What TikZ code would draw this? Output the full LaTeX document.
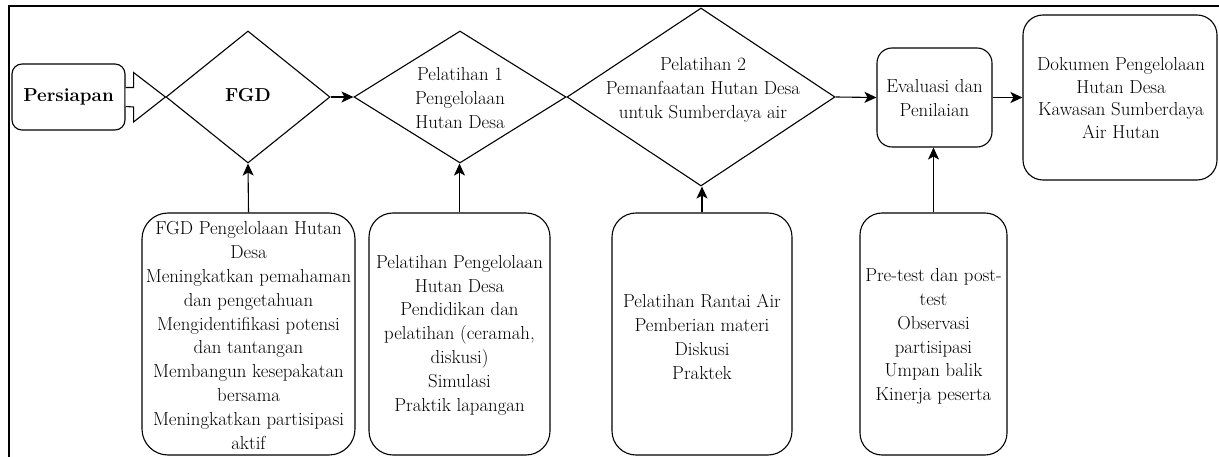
\documentclass[tikz,border=0pt]{standalone}
\usetikzlibrary{shapes.geometric,arrows.meta,calc}
\tikzset{
  frameline/.style={line width=1.4pt},
  rbox/.style={draw, rounded corners=#1, line width=1.1pt, inner sep=0pt},
  dia/.style={draw, diamond, inner sep=0pt, line width=1.1pt},
  txt/.style={align=center, inner sep=0pt, font=\rmfamily\fontsize{18.8}{23.8}\selectfont},
  arr/.style={-{Stealth[length=12pt,width=11pt,inset=3pt]}, line width=1.1pt},
}
\begin{document}
\begin{tikzpicture}[x=1pt,y=-1pt]
\useasboundingbox (0,0) rectangle (1219,457);
% frame
\draw[frameline] (9,460) -- (9,6) -- (1222,6);
% top row shapes
\node[rbox=10pt, minimum width=113pt, minimum height=66pt] (pers) at (68.5,97) {};
\node[dia, minimum width=164pt, minimum height=132pt] (fgd) at (248,97) {};
\node[dia, minimum width=212pt, minimum height=132pt] (p1) at (460,97) {};
\node[dia, minimum width=268pt, minimum height=178pt] (p2) at (701,97) {};
\node[rbox=15pt, minimum width=115pt, minimum height=99pt] (eval) at (934.5,97.5) {};
\node[rbox=20pt, minimum width=194pt, minimum height=165pt] (dok) at (1120,97.5) {};
% top row texts
\node[txt, font=\rmfamily\fontsize{18.8}{23.8}\selectfont\bfseries] (perstxt) at (68.5,97) {Persiapan};
\node[txt, font=\rmfamily\fontsize{18.8}{23.8}\selectfont\bfseries] (fgdtxt) at (248,95) {FGD};
\node[txt] (p1txt) at (460,98) {Pelatihan 1\\Pengelolaan\\Hutan Desa};
\node[txt] (p2txt) at (703,90) {Pelatihan 2\\Pemanfaatan Hutan Desa\\untuk Sumberdaya air};
\node[txt] (evaltxt) at (934.5,98) {Evaluasi dan\\Penilaian};
\node[txt, font=\rmfamily\fontsize{18.8}{22.6}\selectfont] (doktxt) at (1121,98) {Dokumen Pengelolaan\\Hutan Desa\\Kawasan Sumberdaya\\Air Hutan};
% bottom boxes
\node[rbox=26pt, minimum width=213pt, minimum height=242pt] (b1) at (248.5,334) {};
\node[rbox=24pt, minimum width=181pt, minimum height=242pt] (b2) at (459.5,334) {};
\node[rbox=24pt, minimum width=180pt, minimum height=242pt] (b3) at (702,334) {};
\node[rbox=22pt, minimum width=147pt, minimum height=242pt] (b4) at (933.5,334) {};
\node[txt] (b1txt) at (248.5,335.5) {FGD Pengelolaan Hutan\\Desa\\Meningkatkan pemahaman\\dan pengetahuan\\Mengidentifikasi potensi\\dan tantangan\\Membangun kesepakatan\\bersama\\Meningkatkan partisipasi\\aktif};
\node[txt] (b2txt) at (459.5,335) {Pelatihan Pengelolaan\\Hutan Desa\\Pendidikan dan\\pelatihan (ceramah,\\diskusi)\\Simulasi\\Praktik lapangan};
\node[txt] (b3txt) at (702,337) {Pelatihan Rantai Air\\Pemberian materi\\Diskusi\\Praktek};
\node[txt] (b4txt) at (933.5,336.5) {Pre-test dan post-\\test\\Observasi\\partisipasi\\Umpan balik\\Kinerja peserta};
% block arrow Persiapan -> FGD
\draw[line width=1.1pt, fill=white, line join=miter]
  ($(pers.east)+(0,-9.5)$) -- ++(8,0) -- ++(0,-15) -- (fgd.west)
  -- ($(pers.east)+(8,25)$) -- ++(0,-15) -- ($(pers.east)+(0,9.5)$);
% connectors
\draw[arr] (fgd.east) -- (p1.west);
\draw[arr] (p2.east) -- (eval.west);
\draw[arr] (eval.east) -- (dok.west);
\draw[arr] (b1.north) -- (fgd.south);
\draw[arr] (b2.north) -- (b2.north |- p1.south);
\draw[arr] (b3.north) -- (b3.north |- p2.south);
\draw[arr] (b4.north) -- (b4.north |- eval.south);
\end{tikzpicture}
\end{document}
